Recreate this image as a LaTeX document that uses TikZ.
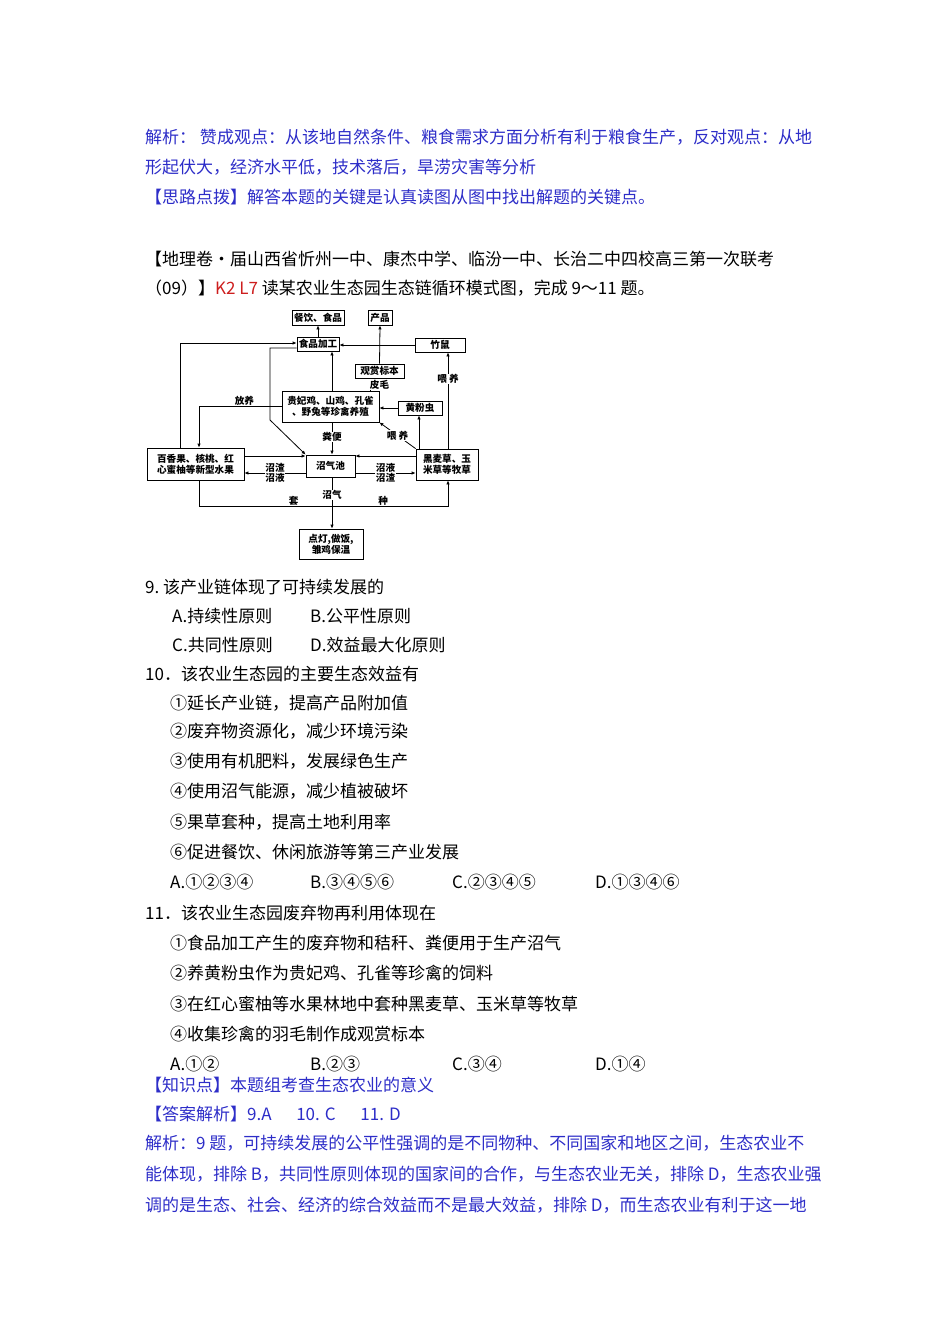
\documentclass[tikz,border=0pt]{standalone}
\usepackage{fontspec}
\setmainfont{Noto Sans CJK SC}
\usetikzlibrary{arrows.meta}
\definecolor{blueT}{RGB}{45,45,200}
\definecolor{redT}{RGB}{205,30,30}
\begin{document}
\begin{tikzpicture}[x=1pt,y=-1pt,
  txt/.style={anchor=west,inner sep=0pt,font=\fontsize{17}{19}\selectfont},
  bt/.style={txt,text=blueT},
  bx/.style={draw,line width=0.8pt,inner sep=1pt,font=\fontsize{9.6}{11}\selectfont\bfseries,align=center},
  lab/.style={inner sep=0.5pt,font=\fontsize{9.6}{10.5}\selectfont\bfseries},
  ar/.style={line width=0.8pt,-{Latex[length=4pt,width=3.5pt]}},
  ln/.style={line width=0.8pt}]
\useasboundingbox (0,0) rectangle (950,1344);
\node[bt] (t1) at (145,137) {解析：\ 赞成观点：从该地自然条件、粮食需求方面分析有利于粮食生产，反对观点：从地};
\node[bt] (t2) at (145,167) {形起伏大，经济水平低，技术落后，旱涝灾害等分析};
\node[bt] (t3) at (145,197) {【思路点拨】解答本题的关键是认真读图从图中找出解题的关键点。};
\node[txt] (t4) at (145,259) {【地理卷·届山西省忻州一中、康杰中学、临汾一中、长治二中四校高三第一次联考};
\node[txt] (t5) at (145,288) {（09）】\textcolor{redT}{K2 L7} 读某农业生态园生态链循环模式图，完成 9～11 题。};
% diagram
\node[bx,minimum width=52pt,minimum height=15pt] (cy) at (318,317.5) {餐饮、食品};
\node[bx,minimum width=24pt,minimum height=15pt] (cp) at (380,317.5) {产品};
\node[bx,minimum width=42pt,minimum height=14pt] (sp) at (318,344) {食品加工};
\node[bx,minimum width=50pt,minimum height=14pt] (zs) at (440,345) {竹鼠};
\node[bx,minimum width=49pt,minimum height=14pt] (gs) at (379.5,371) {观赏标本};
\node[bx,minimum width=97pt,minimum height=31pt] (gf) at (330.5,406.5) {贵妃鸡、山鸡、孔雀\\、野兔等珍禽养殖};
\node[bx,minimum width=44pt,minimum height=14pt] (hf) at (420,408) {黄粉虫};
\node[bx,minimum width=97pt,minimum height=32pt] (bx1) at (195.5,464) {百香果、核桃、红\\心蜜柚等新型水果};
\node[bx,minimum width=49pt,minimum height=22pt] (zq) at (330.5,466) {沼气池};
\node[bx,minimum width=62pt,minimum height=31pt] (hm) at (447,464.5) {黑麦草、玉\\米草等牧草};
\node[bx,minimum width=64pt,minimum height=30pt] (dd) at (331,544) {点灯,做饭,\\雏鸡保温};
\draw[ar] (sp.north) -- (cy.south);
\draw[ar] (gs.north) -- (cp.south);
\draw[ar] (zs.west) -- (sp.east |- zs.west);
\draw[ar] (bx1.north -| 180,0) -- (180,343) -- (sp.west |- 0,343);
\draw[ar] (gf.north -| 332,0) -- (sp.south -| 332,0);
\draw[ar] (gf.south -| 332,0) -- node[lab,fill=white,pos=0.45]{粪便} (zq.north -| 332,0);
\draw[ar] (sp.west |- 0,348) -- (270,348) -- (270,420) -- (zq.north west);
\draw[ln] (gf.north -| 370,0) -- node[lab,fill=white,right=-1pt]{皮毛} (gs.south -| 370,0);
\draw[ar] (gf.west |- 0,406) -- node[lab,above,pos=0.45]{放养} (199,406) -- (bx1.north -| 199,0);
\draw[ar] (hf.west) -- (gf.east |- hf.west);
\draw[ar] (hm.north -| 419,0) -- (hf.south -| 419,0);
\draw[ar] (hm.north west) -- node[lab,fill=white]{喂\ 养} (gf.south east);
\draw[ar] (hm.north -| 448,0) -- node[lab,fill=white,pos=0.72]{喂\ 养} (zs.south -| 448,0);
\draw[ar] (bx1.east |- 0,456) -- (zq.west |- 0,456);
\draw[ar] (zq.west |- 0,473) -- node[lab,align=center,fill=white]{沼渣\\沼液} (bx1.east |- 0,473);
\draw[ar] (hm.west |- 0,456) -- (zq.east |- 0,456);
\draw[ar] (zq.east |- 0,473) -- node[lab,align=center,fill=white]{沼液\\沼渣} (hm.west |- 0,473);
\draw[ar] (zq.south -| 332,0) -- node[lab,fill=white,pos=0.35]{沼气} (dd.north -| 332,0);
\draw[ar] (bx1.south -| 199,0) -- (199,506) -- node[lab,above,pos=0.38]{套} node[lab,above,pos=0.74]{种} (448,506) -- (hm.south -| 448,0);
% questions
\node[txt] (q9) at (145,587) {9.\ 该产业链体现了可持续发展的};
\node[txt] (q9a) at (172,616) {A.持续性原则};
\node[txt] (q9b) at (310,616) {B.公平性原则};
\node[txt] (q9c) at (172,645) {C.共同性原则};
\node[txt] (q9d) at (310,645) {D.效益最大化原则};
\node[txt] (q10) at (145,674) {10．该农业生态园的主要生态效益有};
\node[txt] (o1) at (170,703) {①延长产业链，提高产品附加值};
\node[txt] (o2) at (170,731) {②废弃物资源化，减少环境污染};
\node[txt] (o3) at (170,761) {③使用有机肥料，发展绿色生产};
\node[txt] (o4) at (170,791) {④使用沼气能源，减少植被破坏};
\node[txt] (o5) at (170,822) {⑤果草套种，提高土地利用率};
\node[txt] (o6) at (170,852) {⑥促进餐饮、休闲旅游等第三产业发展};
\node[txt] (a10a) at (170,882) {A.①②③④};
\node[txt] (a10b) at (310,882) {B.③④⑤⑥};
\node[txt] (a10c) at (452,882) {C.②③④⑤};
\node[txt] (a10d) at (595,882) {D.①③④⑥};
\node[txt] (q11) at (145,913) {11．该农业生态园废弃物再利用体现在};
\node[txt] (p1) at (170,943) {①食品加工产生的废弃物和秸秆、粪便用于生产沼气};
\node[txt] (p2) at (170,973) {②养黄粉虫作为贵妃鸡、孔雀等珍禽的饲料};
\node[txt] (p3) at (170,1004) {③在红心蜜柚等水果林地中套种黑麦草、玉米草等牧草};
\node[txt] (p4) at (170,1034) {④收集珍禽的羽毛制作成观赏标本};
\node[txt] (a11a) at (170,1064) {A.①②};
\node[txt] (a11b) at (310,1064) {B.②③};
\node[txt] (a11c) at (452,1064) {C.③④};
\node[txt] (a11d) at (595,1064) {D.①④};
\node[bt] (k1) at (145,1085) {【知识点】本题组考查生态农业的意义};
\node[bt] (k2) at (145,1114) {【答案解析】9.A\quad\ \ 10. C\quad\ \ 11. D};
\node[bt] (k3) at (145,1143) {解析：9 题，可持续发展的公平性强调的是不同物种、不同国家和地区之间，生态农业不};
\node[bt] (k4) at (145,1174) {能体现，排除 B，共同性原则体现的国家间的合作，与生态农业无关，排除 D，生态农业强};
\node[bt] (k5) at (145,1205) {调的是生态、社会、经济的综合效益而不是最大效益，排除 D，而生态农业有利于这一地};
\end{tikzpicture}
\end{document}
